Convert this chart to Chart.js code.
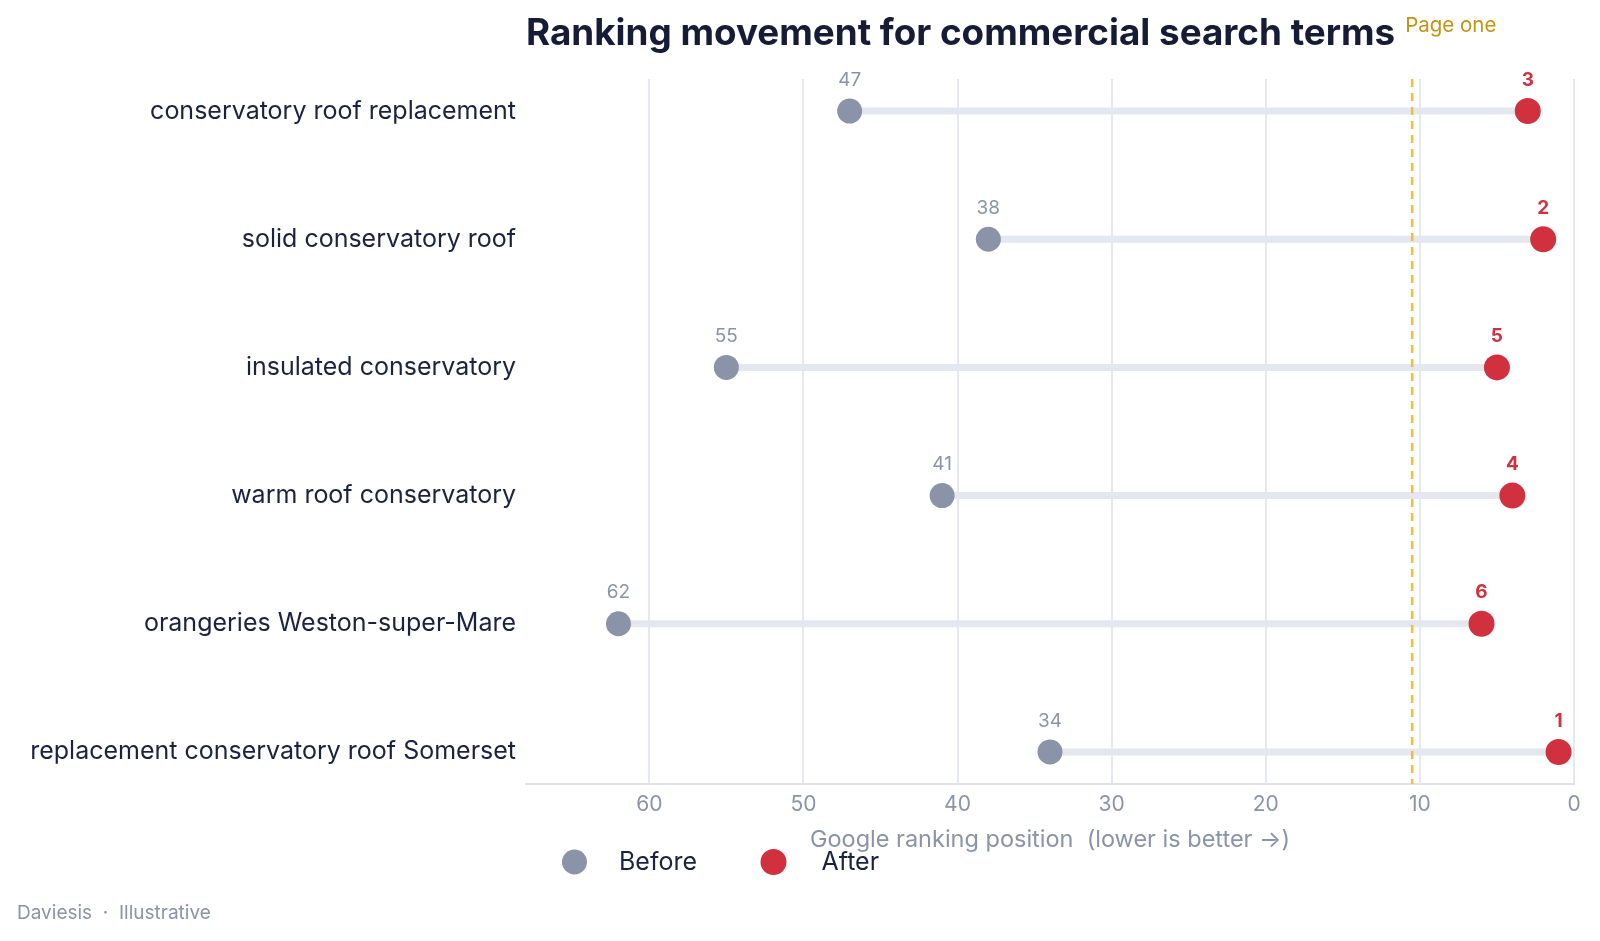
<!DOCTYPE html>
<html>
<head>
<meta charset="utf-8">
<script src="https://cdn.jsdelivr.net/npm/chart.js@4.4.1/dist/chart.umd.min.js"></script>
<style>
  html, body { margin: 0; padding: 0; background: #ffffff; }
  #wrap { width: 1600px; height: 941px; }
</style>
</head>
<body>
<div id="wrap"><canvas id="rankChart" width="1600" height="941"></canvas></div>
<script>
const terms = [
  "conservatory roof replacement",
  "solid conservatory roof",
  "insulated conservatory",
  "warm roof conservatory",
  "orangeries Weston-super-Mare",
  "replacement conservatory roof Somerset"
];
const before = [47, 38, 55, 41, 62, 34];
const after = [3, 2, 5, 4, 6, 1];
const pageOne = 10.5;
const xMax = 68;

const FONT = "Inter, 'DejaVu Sans', sans-serif";
const GRAY = "#8b93a8";
const RED = "#d1303e";
const INK = "#1b2140";

const connectors = terms.map((t, i) => ({
  label: "link-" + i,
  data: [{ x: before[i], y: i }, { x: after[i], y: i }],
  showLine: true,
  borderColor: "#e4e7ee",
  borderWidth: 7,
  pointRadius: 0,
  pointHoverRadius: 0,
  order: 2
}));

const decor = {
  id: "decor",
  afterDatasetsDraw(chart) {
    const { ctx, chartArea, scales } = chart;
    const x = scales.x, y = scales.y;

    // page one cut-off
    const px = x.getPixelForValue(pageOne);
    ctx.save();
    ctx.strokeStyle = "#f2bd3a";
    ctx.lineWidth = 2.5;
    ctx.setLineDash([8, 6]);
    ctx.beginPath();
    ctx.moveTo(px, chartArea.top);
    ctx.lineTo(px, chartArea.bottom);
    ctx.stroke();
    ctx.restore();

    // value labels above points
    ctx.save();
    ctx.textAlign = "center";
    ctx.textBaseline = "middle";
    terms.forEach((t, i) => {
      const py = y.getPixelForValue(i) - 31;
      ctx.font = "400 19px " + FONT;
      ctx.fillStyle = GRAY;
      ctx.fillText(String(before[i]), x.getPixelForValue(before[i]), py);
      ctx.font = "700 19px " + FONT;
      ctx.fillStyle = RED;
      ctx.fillText(String(after[i]), x.getPixelForValue(after[i]), py);
    });
    ctx.restore();
  },
  afterDraw(chart) {
    const { ctx, chartArea, scales } = chart;
    ctx.save();

    // title
    ctx.textBaseline = "middle";
    ctx.textAlign = "left";
    ctx.fillStyle = "#161c36";
    ctx.font = "700 36.8px " + FONT;
    ctx.fillText("Ranking movement for commercial search terms", chartArea.left, 34);

    // page one label
    ctx.fillStyle = "#c49410";
    ctx.font = "400 20.5px " + FONT;
    ctx.fillText("Page one", scales.x.getPixelForValue(pageOne) - 7, 26);

    // legend
    const ly = 862;
    const items = [
      { text: "Before", color: GRAY, r: 12.5, cx: chartArea.left + 48.5, tx: chartArea.left + 93 },
      { text: "After", color: RED, r: 13, cx: chartArea.left + 247.5, tx: chartArea.left + 295.5 }
    ];
    items.forEach(it => {
      ctx.beginPath();
      ctx.fillStyle = it.color;
      ctx.arc(it.cx, ly, it.r, 0, Math.PI * 2);
      ctx.fill();
      ctx.fillStyle = INK;
      ctx.font = "400 25px " + FONT;
      ctx.fillText(it.text, it.tx, ly);
    });

    // footer
    ctx.fillStyle = GRAY;
    ctx.font = "400 19px " + FONT;
    ctx.fillText("Daviesis  \u00b7  Illustrative", 17, 913);
    ctx.restore();
  }
};

new Chart(document.getElementById("rankChart"), {
  type: "scatter",
  data: {
    datasets: [
      {
        label: "After",
        data: after.map((v, i) => ({ x: v, y: i })),
        backgroundColor: RED,
        borderColor: RED,
        borderWidth: 0,
        pointRadius: 13,
        pointHoverRadius: 13,
        order: 0
      },
      {
        label: "Before",
        data: before.map((v, i) => ({ x: v, y: i })),
        backgroundColor: GRAY,
        borderColor: GRAY,
        borderWidth: 0,
        pointRadius: 12.5,
        pointHoverRadius: 12.5,
        order: 1
      },
      ...connectors
    ]
  },
  options: {
    responsive: false,
    animation: false,
    devicePixelRatio: 1,
    layout: { padding: { top: 79, right: 26, bottom: 71, left: 0 } },
    plugins: {
      legend: { display: false },
      title: { display: false },
      tooltip: { enabled: false }
    },
    scales: {
      x: {
        type: "linear",
        reverse: true,
        min: 0,
        max: xMax,
        afterFit(scale) { scale.height = 86; },
        ticks: {
          stepSize: 10,
          includeBounds: false,
          color: GRAY,
          padding: 8,
          font: { family: FONT, size: 21 }
        },
        grid: { color: "#e6e8ef", lineWidth: 2, drawTicks: false },
        border: { display: true, color: "#dfe2ea", width: 2 },
        title: {
          display: true,
          text: "Google ranking position  (lower is better \u2192)",
          color: GRAY,
          font: { family: FONT, size: 23.5 },
          padding: { top: 0, bottom: 16 }
        }
      },
      y: {
        type: "linear",
        reverse: true,
        min: -0.25,
        max: 5.25,
        afterFit(scale) { scale.width = 526; },
        afterBuildTicks(scale) { scale.ticks = terms.map((t, i) => ({ value: i })); },
        ticks: {
          color: INK,
          padding: 2,
          font: { family: FONT, size: 25 },
          callback: (v) => terms[v]
        },
        grid: { display: false },
        border: { display: false }
      }
    }
  },
  plugins: [decor]
});
</script>
</body>
</html>
